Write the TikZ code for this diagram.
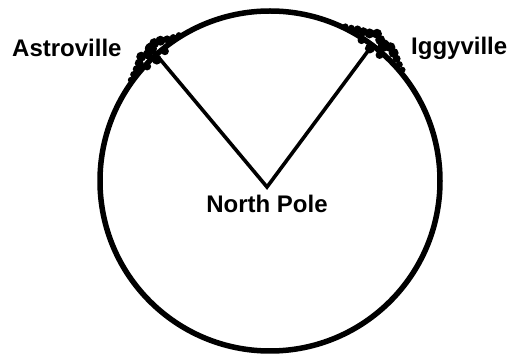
\documentclass[tikz,border=0pt]{standalone}
\usepackage{fontspec}
\setmainfont{Liberation Sans}
\usetikzlibrary{positioning}

\tikzset{
  townlabel/.style={font=\fontsize{24}{28}\selectfont\bfseries,inner sep=0pt},
  globe/.style={line width=5.5pt},
  spoke/.style={line width=3.6pt,line cap=round,line join=miter},
}

\begin{document}
\begin{tikzpicture}[x=1pt,y=1pt]
  \useasboundingbox (0,0) rectangle (512,-355);
  \coordinate (c) at (270,-181);
  \coordinate (pole) at (267,-187);
  \path (c) ++(132:170) coordinate (astro);
  \path (c) ++(53:170) coordinate (iggy);
  % globe and the two routes
  \draw[globe] (c) circle (170);
  \draw[spoke] (astro) -- (pole) -- (iggy);
  % town smudges
  \foreach \a/\d/\s in {122/2/3,124/3/3.5,126/5/4,128/8/5,130/10/5,132/8/6,134/6/5,136/9/5,138/6/4.5,140/4/4,142/3/3.5,144/2/3,129/-3/4,133/-4/5,137/-2/4}
    \fill (c) ++(\a:170+\d) circle (\s);
  \foreach \a/\d/\s in {40/3/3,42/4/3.5,44/6/4,46/8/5,48/10/5,50/7/6,52/9/5,54/12/5,56/8/5,58/6/4.5,60/5/4,62/3/3.5,64/2/3,49/-3/4,53/-4/5,57/-2/4}
    \fill (c) ++(\a:170+\d) circle (\s);
  % labels
  \node[townlabel,anchor=base west] (astrolbl) at (12,-57) {Astroville};
  \node[townlabel,anchor=base west] (iggylbl) at (411,-55) {Iggyville};
  \node[townlabel,anchor=base] (polelbl) at (267,-213) {North Pole};
\end{tikzpicture}
\end{document}
